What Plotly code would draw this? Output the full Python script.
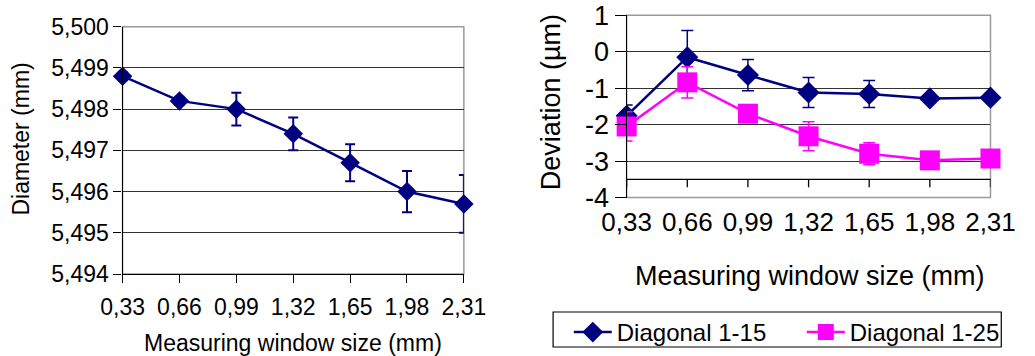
import plotly.graph_objects as go

W, H = 1035, 356

# ---- data ----
window_sizes = [0.33, 0.66, 0.99, 1.32, 1.65, 1.98, 2.31]
window_labels = ["0,33", "0,66", "0,99", "1,32", "1,65", "1,98", "2,31"]

diameter = [5.4988, 5.4982, 5.4980, 5.4974, 5.4967, 5.4960, 5.4957]
diameter_err = [0.0001, 0.0001, 0.0004, 0.0004, 0.00045, 0.0005, 0.0007]
diam_ticks = [5.494, 5.495, 5.496, 5.497, 5.498, 5.499, 5.500]
diam_ticklabels = ["5,494", "5,495", "5,496", "5,497", "5,498", "5,499", "5,500"]

dev_1_15 = [-1.76, -0.15, -0.64, -1.12, -1.16, -1.28, -1.26]
dev_1_15_err = [0.30, 0.73, 0.43, 0.41, 0.37, 0.10, 0.10]
dev_1_25 = [-2.05, -0.84, -1.70, -2.32, -2.80, -2.98, -2.93]
dev_1_25_err = [0.40, 0.43, 0.10, 0.40, 0.30, 0.10, 0.10]
dev_ticks = [-4, -3, -2, -1, 0, 1]
dev_ticklabels = ["-4", "-3", "-2", "-1", "0", "1"]
dev_axis_cross = -3.5

NAVY = "#000080"
MAGENTA = "#FF00FF"
FONT = "Liberation Sans, Arial, sans-serif"
LEFT_FS = 23
RIGHT_FS = 27

def px_x(p):
    return p / W

def px_y(p):
    return 1 - p / H

fig = go.Figure()

fig.add_trace(go.Scatter(
    x=window_sizes, y=diameter, mode="lines+markers",
    line=dict(color=NAVY, width=2.5),
    marker=dict(symbol="diamond", size=15, color=NAVY, line=dict(width=0)),
    error_y=dict(type="data", array=diameter_err, color=NAVY, thickness=2, width=5),
    showlegend=False, cliponaxis=False, xaxis="x", yaxis="y",
))

fig.add_trace(go.Scatter(
    x=window_sizes, y=dev_1_15, mode="lines+markers", name="Diagonal 1-15",
    line=dict(color=NAVY, width=2.5),
    marker=dict(symbol="diamond", size=17, color=NAVY, line=dict(width=0)),
    error_y=dict(type="data", array=dev_1_15_err, color=NAVY, thickness=1.5, width=6),
    cliponaxis=False, xaxis="x2", yaxis="y2",
))
fig.add_trace(go.Scatter(
    x=window_sizes, y=dev_1_25, mode="lines+markers", name="Diagonal 1-25",
    line=dict(color=MAGENTA, width=2.5),
    marker=dict(symbol="square", size=20, color=MAGENTA, line=dict(width=0)),
    error_y=dict(type="data", array=dev_1_25_err, color=MAGENTA, thickness=1.5, width=6),
    cliponaxis=False, xaxis="x2", yaxis="y2",
))

shapes = []
for xr, yr in (("x domain", "y domain"), ("x2 domain", "y2 domain")):
    shapes.append(dict(type="rect", xref=xr, yref=yr, x0=0, x1=1, y0=0, y1=1,
                       line=dict(color="#9a9a9a", width=1.5), layer="below"))
shapes.append(dict(type="line", xref="x2 domain", yref="y2", x0=0, x1=1,
                   y0=dev_axis_cross, y1=dev_axis_cross,
                   line=dict(color="#000", width=1.3), layer="below"))
for xv in window_sizes:
    shapes.append(dict(type="line", xref="x2", yref="y2", x0=xv, x1=xv,
                       y0=dev_axis_cross, y1=dev_axis_cross - 0.22,
                       line=dict(color="#000", width=1.3), layer="below"))
# legend frame
shapes.append(dict(type="rect", xref="paper", yref="paper",
                   x0=px_x(564), x1=px_x(1021), y0=px_y(347), y1=px_y(312),
                   line=dict(color="#000", width=1.2), fillcolor="white", layer="below"))

annotations = [
    dict(text="Diameter (mm)", x=px_x(21), y=px_y(139), textangle=-90,
         font=dict(size=LEFT_FS, family=FONT, color="#000")),
    dict(text="Measuring window size (mm)", x=px_x(299), y=px_y(343),
         font=dict(size=LEFT_FS, family=FONT, color="#000")),
    dict(text="Deviation (µm)", x=px_x(562), y=px_y(102), textangle=-90,
         font=dict(size=RIGHT_FS, family=FONT, color="#000")),
    dict(text="Measuring window size (mm)", x=px_x(826), y=px_y(276),
         font=dict(size=RIGHT_FS, family=FONT, color="#000")),
]
for a in annotations:
    a.update(xref="paper", yref="paper", showarrow=False, xanchor="center", yanchor="middle")

fig.update_layout(
    width=W, height=H,
    margin=dict(l=0, r=0, t=0, b=0),
    paper_bgcolor="white", plot_bgcolor="white",
    font=dict(family=FONT, color="#000"),
    template="none",
    xaxis=dict(domain=[px_x(125), px_x(473)], anchor="y", range=[0.33, 2.31],
               tickvals=window_sizes, ticktext=window_labels,
               ticks="outside", ticklen=8, tickwidth=1.3, tickcolor="#000",
               ticklabelstandoff=4,
               showline=True, linecolor="#000", linewidth=1.3,
               tickfont=dict(size=LEFT_FS), showgrid=False, zeroline=False, automargin=False),
    yaxis=dict(domain=[px_y(274), px_y(26.7)], anchor="x", range=[5.494, 5.500],
               tickvals=diam_ticks, ticktext=diam_ticklabels,
               ticks="outside", ticklen=8, tickwidth=1.3, tickcolor="#000",
               showline=True, linecolor="#000", linewidth=1.3,
               tickfont=dict(size=LEFT_FS), showgrid=True, gridcolor="#333", gridwidth=1.3,
               zeroline=False, automargin=False),
    xaxis2=dict(domain=[px_x(639), px_x(1010)], anchor="y2", range=[0.33, 2.31],
                tickvals=window_sizes, ticktext=window_labels,
                ticks="outside", ticklen=1, tickcolor="rgba(0,0,0,0)",
                showline=False, tickfont=dict(size=26),
                showgrid=False, zeroline=False, automargin=False),
    yaxis2=dict(domain=[px_y(197.5), px_y(15.3)], anchor="x2", range=[-4, 1],
                tickvals=dev_ticks, ticktext=dev_ticklabels,
                ticks="outside", ticklen=11, tickwidth=1.3, tickcolor="#000",
                showline=True, linecolor="#000", linewidth=1.3,
                tickfont=dict(size=RIGHT_FS), showgrid=True, gridcolor="#333", gridwidth=1.3,
                zeroline=False, automargin=False),
    shapes=shapes,
    annotations=annotations,
    legend=dict(orientation="h", x=px_x(580), y=px_y(310), xanchor="left", yanchor="top",
                borderwidth=0, bgcolor="rgba(0,0,0,0)",
                font=dict(size=24, family=FONT, color="#000"),
                entrywidth=180, itemwidth=38),
)

fig.write_html("out.html")
